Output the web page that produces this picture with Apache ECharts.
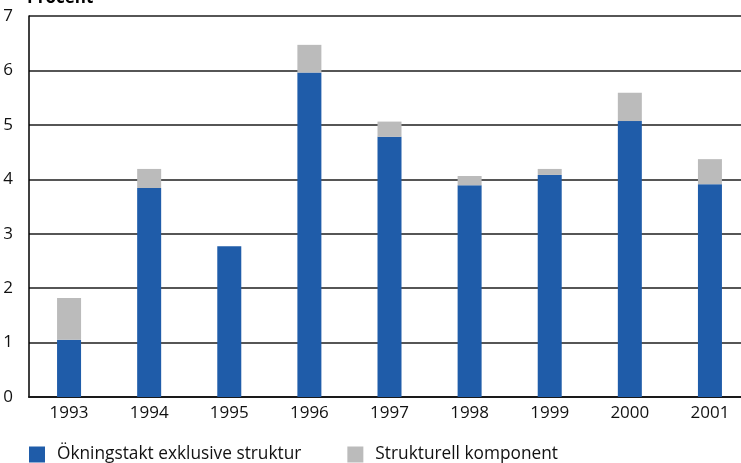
<!DOCTYPE html>
<html>
<head>
<meta charset="utf-8">
<script src="https://cdn.jsdelivr.net/npm/echarts@6/dist/echarts.min.js"></script>
<style>
  html, body { margin: 0; padding: 0; background: #fff; overflow: hidden; }
  /* The plot runs past the right edge of the window, so the canvas is wider than the view */
  #chart { width: 760px; height: 463px; }
</style>
</head>
<body>
<div id="chart"></div>
<script>
// Årtal på x-axeln
const years = ['1993', '1994', '1995', '1996', '1997', '1998', '1999', '2000', '2001'];
// Ökningstakt exklusive struktur (procent)
const excludingStructure = [1.05, 3.84, 2.77, 5.96, 4.78, 3.89, 4.08, 5.07, 3.91];
// Strukturell komponent (procent), staplad ovanpå
const structuralComponent = [0.77, 0.35, 0, 0.51, 0.28, 0.17, 0.11, 0.52, 0.46];
// Y-axelns skala
const yTicks = [0, 1, 2, 3, 4, 5, 6, 7];

const seriesNames = ['Ökningstakt exklusive struktur', 'Strukturell komponent'];
const font = '"Open Sans", "DejaVu Sans", sans-serif';

const chart = echarts.init(document.getElementById('chart'));
chart.setOption({
  animation: false,
  backgroundColor: '#ffffff',
  textStyle: { fontFamily: font },
  graphic: [{
    type: 'text',
    left: 27,
    top: -10,
    style: { text: 'Procent', fontFamily: font, fontWeight: 'bold', fontSize: 17, fill: '#000' }
  }],
  legend: {
    left: 29,
    top: 446,
    padding: 0,
    itemWidth: 16,
    itemHeight: 16,
    itemGap: 46,
    icon: 'rect',
    textStyle: { fontFamily: font, fontSize: 17.3, color: '#111', padding: [0, 0, 0, 7] },
    data: seriesNames
  },
  grid: { left: 29, width: 721, top: 16, bottom: 66, containLabel: false },
  xAxis: {
    type: 'category',
    data: years,
    axisLine: { show: true, lineStyle: { color: '#1a1a1a', width: 2 } },
    axisTick: { show: false },
    axisLabel: { color: '#111', fontSize: 17, margin: 8, fontFamily: font }
  },
  yAxis: {
    type: 'value',
    min: yTicks[0],
    max: yTicks[yTicks.length - 1],
    interval: 1,
    axisLine: { show: true, lineStyle: { color: '#000', width: 1.5 } },
    axisTick: { show: false },
    axisLabel: { color: '#111', fontSize: 17, margin: 16, fontFamily: font },
    splitLine: { show: true, lineStyle: { color: '#1e1e1e', width: 1.5 } }
  },
  series: [
    {
      name: seriesNames[0],
      type: 'bar',
      stack: 'total',
      barWidth: 24,
      itemStyle: { color: '#1f5ca9' },
      data: excludingStructure
    },
    {
      name: seriesNames[1],
      type: 'bar',
      stack: 'total',
      barWidth: 24,
      itemStyle: { color: '#bbbbbb' },
      data: structuralComponent
    }
  ]
});
</script>
</body>
</html>
